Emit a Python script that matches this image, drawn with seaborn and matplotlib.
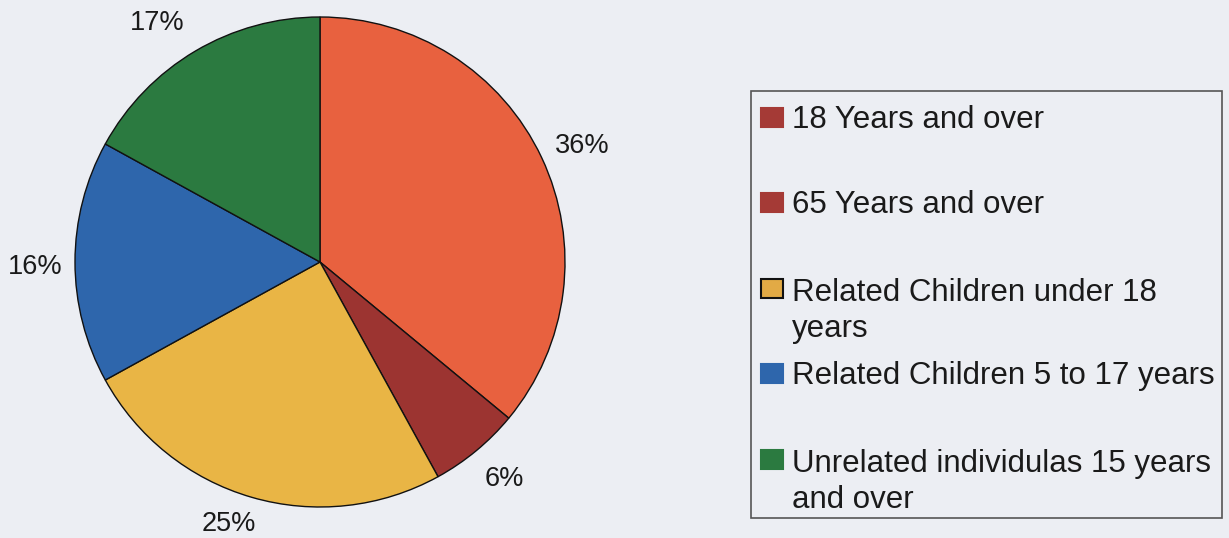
import matplotlib
matplotlib.use('Agg')
import numpy as np
import matplotlib.pyplot as plt
from matplotlib.patches import Rectangle
import seaborn as sns

# data
categories = ['18 Years and over', '65 Years and over', 'Related Children under 18\nyears',
              'Related Children 5 to 17 years', 'Unrelated individulas 15 years\nand over']
shares = [36, 6, 25, 16, 17]
slice_colors = ['#E8613F', '#9C3431', '#E9B545', '#2E66AC', '#2B7A40']
legend_colors = ['#A53A36', '#A53A36', '#E2AA45', '#2E66AC', '#2B7A40']
# placement of each percent label: distance (radii) and angle nudge (deg)
label_dist = [1.175, 1.152, 1.122, 1.161, 1.188]
label_nudge = [-0.8, 1.1, -3.1, 0.4, 3.3]

bg = '#ECEEF3'
sns.set_theme(style='white')
plt.rcParams['font.family'] = ['Liberation Sans', 'DejaVu Sans']
plt.rcParams['text.color'] = '#1a1a1a'

W, H = 1229, 538
fig = plt.figure(figsize=(W / 100, H / 100), dpi=100)
fig.patch.set_facecolor(bg)

# pie axes, circle centred at (320, 262) px with radius 245
cx, cy, r = 320, 262, 245
ax = fig.add_axes([(cx - r) / W, (H - cy - r) / H, 2 * r / W, 2 * r / H])
ax.set_facecolor(bg)
wedges, texts, autotexts = ax.pie(
    shares, colors=slice_colors, startangle=90, counterclock=False,
    autopct='%d%%', pctdistance=1.16,
    wedgeprops=dict(edgecolor='#111111', linewidth=1.0),
    textprops=dict(fontsize=19.5, color='#1a1a1a'))
for w, t, d, n in zip(wedges, autotexts, label_dist, label_nudge):
    mid = np.deg2rad((w.theta1 + w.theta2) / 2 + n)
    t.set_position((d * np.cos(mid), d * np.sin(mid)))
    t.set_va('center_baseline')
ax.set_xlim(-1, 1)
ax.set_ylim(-1, 1)
ax.axis('off')

# legend box drawn by hand so that wrapped labels keep their slot
lx0, ly0, lx1, ly1 = 751, 91, 1222, 518
fig.patches.append(Rectangle((lx0 / W, 1 - ly1 / H), (lx1 - lx0) / W, (ly1 - ly0) / H,
                             transform=fig.transFigure, facecolor=bg,
                             edgecolor='#555555', linewidth=1.2))
line_h = 38
row_y = 117
for label, col in zip(categories, legend_colors):
    ec = '#111111' if col == '#E2AA45' else col
    fig.patches.append(Rectangle((761 / W, 1 - (row_y + 9.5) / H), 22 / W, 19 / H,
                                 transform=fig.transFigure, facecolor=col,
                                 edgecolor=ec, linewidth=1.5))
    extra = label.count('\n') * line_h
    fig.text(792 / W, 1 - (row_y + 10.5 + extra) / H, label, fontsize=22.5, va='baseline',
             ha='left', linespacing=1.245, color='#1a1a1a')
    row_y += 85.5

fig.savefig('out.png', dpi=100, facecolor=bg)
